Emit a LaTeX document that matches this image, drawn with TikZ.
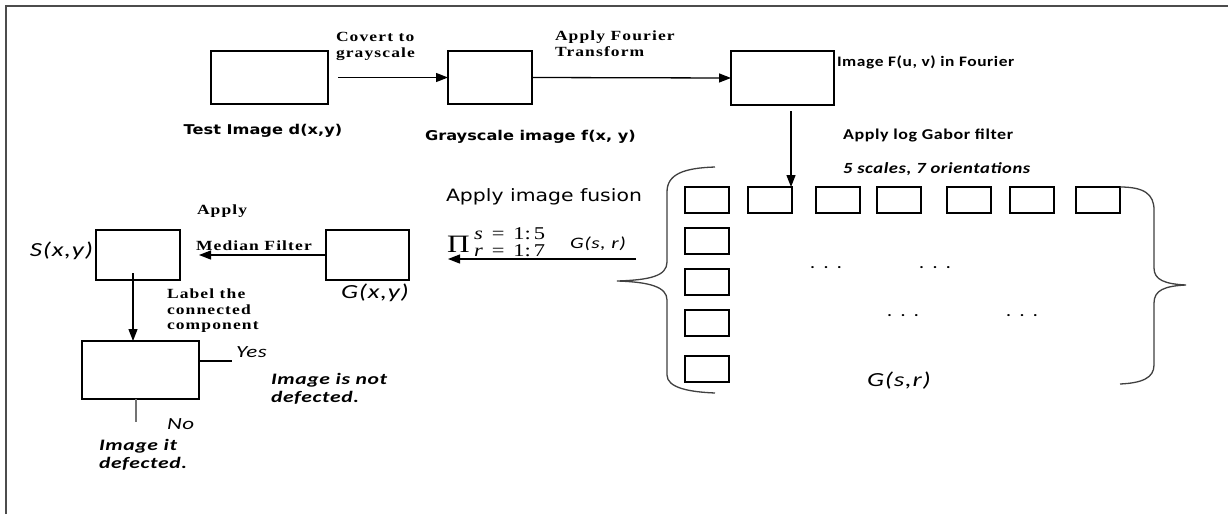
\documentclass[tikz,border=0pt]{standalone}
\usepackage{fontspec}
\usetikzlibrary{arrows.meta}
\newfontfamily\serifb[FakeStretch=1.25,LetterSpace=8]{Liberation Serif}
\newfontfamily\mwide[FakeStretch=1.25]{Liberation Serif}
\newfontfamily\vsans[FakeStretch=1.2]{DejaVu Sans}
\newfontfamily\csans[FakeStretch=1.2,LetterSpace=4]{Carlito}
\newfontfamily\cital[FakeStretch=1.35,LetterSpace=4]{Carlito}
\tikzset{
  blk/.style={draw=black, line width=1.3pt, inner sep=0pt, outer sep=0pt, anchor=north west, fill=white},
  cell/.style={blk, minimum width=44pt, minimum height=26pt, line width=1.2pt},
  arr/.style={-{Triangle[length=12pt,width=9pt]}, line width=1.3pt},
  lbl/.style={inner sep=0pt, outer sep=0pt, anchor=west, align=left},
  sbold/.style={lbl, font=\serifb\bfseries\fontsize{14}{16}\selectfont},
  ital/.style={lbl, font=\cital\itshape\fontsize{20}{20}\selectfont},
  mth/.style={lbl, font=\mwide\fontsize{18}{18}\selectfont},
  brace/.style={draw=black!75, line width=1.3pt},
}
\begin{document}
\begin{tikzpicture}[x=1pt,y=-1pt]
\useasboundingbox (0,0) rectangle (1228,514);
\fill[white] (0,0) rectangle (1228,514);
% frame
\draw[line width=1.6pt, black!70] (6,514) -- (6,6) -- (1228,6);

% top row boxes
\node[blk, minimum width=117pt, minimum height=53pt] (b1) at (211,51) {};
\node[blk, minimum width=84pt, minimum height=53pt] (b2) at (448,51) {};
\node[blk, minimum width=103pt, minimum height=54pt] (b3) at (731,51) {};

\draw[arr, shorten <=10pt] (b1.east) -- (b2.west);
\draw[arr] (b2.east) -- (b3.west);

\node[sbold] (t1) at (336,46) {Covert to\\grayscale};
\node[sbold] (t2) at (555,44) {Apply Fourier\\Transform};
\node[lbl, font=\csans\bfseries\fontsize{14.5}{16}\selectfont] (t3) at (837,62) {Image F(u, v) in Fourier};
\node[inner sep=0pt, font=\vsans\bfseries\fontsize{13.5}{16}\selectfont] (t4) at (263,131) {Test Image d(x,y)};
\node[lbl, font=\vsans\bfseries\fontsize{13.5}{16}\selectfont] (t5) at (425,137) {Grayscale image f(x, y)};
\node[lbl, font=\csans\bfseries\fontsize{15}{16}\selectfont] (t6) at (843,135) {Apply log Gabor filter};
\node[lbl, font=\csans\bfseries\itshape\fontsize{15.5}{16}\selectfont] (t7) at (843,169) {5 scales, 7 orientations};

% grid of filter outputs
\foreach \c/\x in {1/685,2/748,3/816,4/877,5/947,6/1010,7/1076}
  \node[cell] (g1\c) at (\x,187) {};
\foreach \r/\y in {2/228,3/269,4/310,5/356}
  \node[cell] (g\r1) at (685,\y) {};

\coordinate (d0) at (791,111);
\draw[arr] (d0) -- (d0 |- g12.north);

% dots
\foreach \n/\x/\y in {da/826/268,db/935/268,dc/903/316,dd/1022/316}
  \node[inner sep=0pt, font=\csans\bfseries\fontsize{14}{16}\selectfont] (\n) at (\x,\y) {.\hspace{9pt}.\hspace{9pt}.};

\node[ital] (gsr) at (867,381) {G(s,r)};

% braces
\draw[brace] (715,167) .. controls (684,168) and (667,174) .. (667,192) -- (667,262)
  .. controls (667,276) and (650,280) .. (617,281)
  .. controls (650,282) and (667,287) .. (667,300) -- (667,375)
  .. controls (667,388) and (690,392) .. (715,393);
\draw[brace] (g17.north east) .. controls (1144,187) and (1154,194) .. (1154,210) -- (1154,268)
  .. controls (1154,280) and (1165,284) .. (1186,285)
  .. controls (1165,286) and (1154,290) .. (1154,303) -- (1154,365)
  .. controls (1154,378) and (1142,383) .. (1120,384);

% fusion
\node[lbl, font=\vsans\fontsize{17}{17}\selectfont] (fus) at (446,197) {Apply image fusion};
\node[lbl, font=\mwide\fontsize{25}{25}\selectfont] (pi) at (447,244) {Π};
\node[mth] (sup) at (474,234) {\itshape s\upshape\enspace=\enspace1:\,5};
\node[mth] (sub) at (474,251) {\itshape r\upshape\enspace=\enspace1:\,7};
\node[lbl, font=\cital\itshape\fontsize{16}{16}\selectfont] (gsr2) at (570,244) {G(s, r)};
\coordinate (f0) at (636,259);
\coordinate (f1) at (448,259);
\draw[arr] (f0) -- (f1);

% second stage
\node[blk, minimum width=84pt, minimum height=50pt] (sxy) at (96,230) {};
\node[blk, minimum width=83pt, minimum height=50pt] (gxy) at (326,230) {};
\draw[arr, shorten >=19pt] (gxy.west) -- (sxy.east);
\node[sbold] (ap) at (197,211) {Apply};
\node[sbold] (mf) at (196,246) {Median Filter};
\node[ital, anchor=east] (sl) at (93,251) {S(x,y)};
\node[ital] (gl) at (341,293) {G(x,y)};
\node[sbold, font=\serifb\bfseries\fontsize{14}{15.5}\selectfont] (lc) at (167,311) {Label the\\connected\\component};

\node[blk, minimum width=117pt, minimum height=58pt] (dec) at (82,341) {};
\coordinate (s0) at (133,273);
\draw[arr] (s0) -- (s0 |- dec.north);
\coordinate (yesend) at (232,361);
\draw[line width=1.2pt] (dec.east |- yesend) -- (yesend);
\coordinate (noend) at (136,422);
\draw[line width=1.2pt, black!55] (noend |- dec.south) -- (noend);

\node[lbl, font=\cital\itshape\fontsize{17}{17}\selectfont] (yes) at (236,352) {Yes};
\node[lbl, font=\cital\itshape\fontsize{17}{17}\selectfont] (no) at (167,424) {No};
\node[lbl, font=\cital\bfseries\itshape\fontsize{16}{18.5}\selectfont] (nd) at (271,389) {Image is not\\defected.};
\node[lbl, font=\cital\bfseries\itshape\fontsize{16}{18.5}\selectfont] (id) at (99,455) {Image it\\defected.};
\end{tikzpicture}
\end{document}
